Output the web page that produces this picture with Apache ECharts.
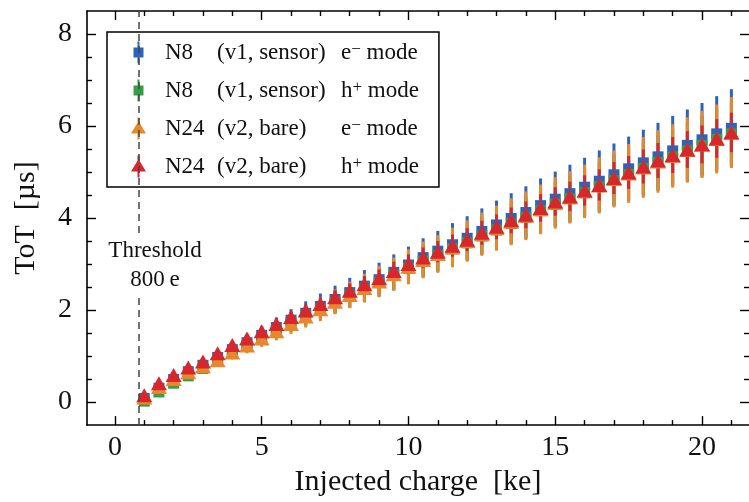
<!DOCTYPE html>
<html>
<head>
<meta charset="utf-8">
<script src="https://cdn.jsdelivr.net/npm/echarts@6/dist/echarts.min.js"></script>
<style>
  html, body { margin: 0; padding: 0; background: #fff; }
  #chart { width: 749px; height: 502px; }
</style>
</head>
<body>
<div id="chart"></div>
<script>
// injected charge [ke]
const charge = [1, 1.5, 2, 2.5, 3, 3.5, 4, 4.5, 5, 5.5, 6, 6.5, 7, 7.5, 8, 8.5, 9, 9.5, 10, 10.5,
  11, 11.5, 12, 12.5, 13, 13.5, 14, 14.5, 15, 15.5, 16, 16.5, 17, 17.5, 18, 18.5, 19, 19.5, 20, 20.5, 21];

// ToT [us]
const totN8e = [0.08, 0.30, 0.49, 0.66, 0.80, 0.97, 1.14, 1.29, 1.45, 1.62, 1.78, 1.93, 2.08, 2.23, 2.38, 2.52, 2.66, 2.82, 2.98, 3.14,
  3.28, 3.42, 3.56, 3.71, 3.85, 3.99, 4.12, 4.27, 4.41, 4.53, 4.67, 4.80, 4.94, 5.07, 5.20, 5.33, 5.46, 5.58, 5.70, 5.83, 5.95];
const totN8h = [0.02, 0.22, 0.41, 0.57, 0.73, 0.90, 1.07, 1.23, 1.39, 1.56, 1.72, 1.87, 2.02, 2.17, 2.32, 2.46, 2.60, 2.76, 2.91, 3.06,
  3.19, 3.33, 3.46, 3.61, 3.74, 3.88, 4.01, 4.16, 4.30, 4.42, 4.55, 4.68, 4.82, 4.95, 5.08, 5.21, 5.33, 5.46, 5.58, 5.71, 5.83];
const totN24e = [0.10, 0.33, 0.50, 0.65, 0.78, 0.91, 1.08, 1.23, 1.38, 1.54, 1.70, 1.86, 2.02, 2.18, 2.33, 2.48, 2.62, 2.78, 2.94, 3.09,
  3.22, 3.36, 3.50, 3.65, 3.78, 3.92, 4.05, 4.19, 4.33, 4.45, 4.58, 4.71, 4.85, 4.97, 5.10, 5.23, 5.35, 5.48, 5.60, 5.72, 5.86];
const totN24h = [0.15, 0.41, 0.59, 0.75, 0.88, 1.06, 1.24, 1.38, 1.54, 1.70, 1.85, 1.99, 2.13, 2.28, 2.42, 2.56, 2.69, 2.85, 3.00, 3.14,
  3.27, 3.40, 3.53, 3.68, 3.81, 3.95, 4.07, 4.22, 4.36, 4.47, 4.60, 4.72, 4.87, 4.99, 5.12, 5.25, 5.37, 5.49, 5.60, 5.73, 5.86];

// error bars (half length)
const errN8e = [0.05, 0.07, 0.08, 0.10, 0.12, 0.14, 0.16, 0.18, 0.20, 0.22, 0.24, 0.26, 0.28, 0.30, 0.32, 0.35, 0.37, 0.39, 0.40, 0.42,
  0.44, 0.47, 0.48, 0.50, 0.53, 0.55, 0.57, 0.59, 0.60, 0.63, 0.64, 0.67, 0.68, 0.70, 0.72, 0.74, 0.76, 0.78, 0.80, 0.82, 0.85];
const errN8h = [0.04, 0.05, 0.07, 0.08, 0.10, 0.11, 0.13, 0.14, 0.16, 0.18, 0.19, 0.21, 0.22, 0.24, 0.26, 0.28, 0.29, 0.31, 0.32, 0.34,
  0.35, 0.37, 0.38, 0.40, 0.42, 0.44, 0.45, 0.47, 0.48, 0.50, 0.51, 0.53, 0.54, 0.56, 0.57, 0.59, 0.60, 0.62, 0.64, 0.65, 0.67];
const errN24e = [0.05, 0.06, 0.08, 0.09, 0.11, 0.13, 0.15, 0.17, 0.18, 0.20, 0.22, 0.24, 0.26, 0.27, 0.29, 0.31, 0.34, 0.36, 0.38, 0.40,
  0.41, 0.43, 0.45, 0.47, 0.49, 0.51, 0.53, 0.54, 0.56, 0.57, 0.58, 0.61, 0.62, 0.64, 0.66, 0.68, 0.69, 0.71, 0.73, 0.75, 0.77];
const errN24h = [0.03, 0.04, 0.04, 0.05, 0.06, 0.07, 0.08, 0.09, 0.10, 0.11, 0.12, 0.13, 0.14, 0.15, 0.16, 0.18, 0.19, 0.20, 0.21, 0.22,
  0.23, 0.24, 0.25, 0.26, 0.27, 0.28, 0.29, 0.30, 0.31, 0.32, 0.33, 0.34, 0.35, 0.36, 0.37, 0.38, 0.39, 0.40, 0.41, 0.42, 0.43];

// ticks
const xMajor = [0, 5, 10, 15, 20];
const xMinor = [1, 2, 3, 4, 6, 7, 8, 9, 11, 12, 13, 14, 16, 17, 18, 19, 21];
const yMajor = [0, 2, 4, 6, 8];
const yMinor = [0.5, 1, 1.5, 2.5, 3, 3.5, 4.5, 5, 5.5, 6.5, 7, 7.5];

const threshold = 0.8;

// legend texts
const chipNames = ['N8', 'N8', 'N24', 'N24'];
const versions = ['(v1, sensor)', '(v1, sensor)', '(v2, bare)', '(v2, bare)'];
const carriers = ['e', 'h', 'e', 'h'];
const carrierSigns = ['\u2212', '+', '\u2212', '+'];

const serif = 'Liberation Serif';
const colors = ['#2d63bd', '#34a046', '#e8882d', '#d8262c'];
const values = [totN8e, totN8h, totN24e, totN24h];
const errors = [errN8e, errN8h, errN24e, errN24h];
const symbols = ['rect', 'rect', 'triangle', 'triangle'];
const symbolSizes = [[11, 11], [11, 11], [16, 14], [16, 14]];

// legend icons: marker with its error bar (tiny points at the sides keep the box 15x22)
const squareIcon = 'path://M0,11L0.01,11L0,11.01Z M15,11L14.99,11L15,11.01Z M6.5,0H8.5V6H12.5V16H8.5V22H6.5V16H2.5V6H6.5Z';
const triangleIcon = 'path://M6.5,0H8.5V5.2L15,16H8.5V22H6.5V16H0L6.5,5.2Z';
const icons = [squareIcon, squareIcon, triangleIcon, triangleIcon];

const names = chipNames.map((c, i) => c + ' ' + versions[i] + ' ' + carriers[i] + carrierSigns[i] + ' mode');

let chart = echarts.init(document.getElementById('chart'));

let series = [];
names.forEach((name, i) => {
  let data = charge.map((x, j) => [x, values[i][j], errors[i][j]]);
  // error bars
  series.push({
    name: name,
    type: 'custom',
    xAxisIndex: 0,
    yAxisIndex: 0,
    data: data,
    encode: { x: 0, y: 1 },
    silent: true,
    renderItem: function (params, api) {
      let x = api.value(0), y = api.value(1), e = api.value(2);
      let lo = api.coord([x, y - e]);
      let hi = api.coord([x, y + e]);
      return {
        type: 'line',
        shape: { x1: lo[0], y1: lo[1], x2: hi[0], y2: hi[1] },
        style: { stroke: colors[i], lineWidth: 3 }
      };
    }
  });
  // markers
  let s = {
    name: name,
    type: 'scatter',
    xAxisIndex: 0,
    yAxisIndex: 0,
    data: data.map(d => [d[0], d[1]]),
    symbol: symbols[i],
    symbolSize: symbolSizes[i],
    itemStyle: { color: colors[i], opacity: 1 },
    silent: true
  };
  if (i === 0) {
    s.markLine = {
      silent: true,
      symbol: ['none', 'none'],
      label: { show: false },
      lineStyle: { color: '#444', width: 1.5, type: [7, 5] },
      data: [{ xAxis: threshold }]
    };
  }
  series.push(s);
});

function xAxisDef(pos, ticks, len, main) {
  return {
    type: 'value',
    position: pos,
    min: -0.95,
    max: 21.6,
    axisLine: { show: main, onZero: false, lineStyle: { color: '#000', width: 1.6 } },
    axisTick: { show: true, inside: true, length: len, customValues: ticks, lineStyle: { color: '#000', width: 1.4 } },
    axisLabel: { show: main && pos === 'bottom', customValues: ticks, margin: 9, fontSize: 28, fontFamily: serif, color: '#111' },
    splitLine: { show: false },
    name: main && pos === 'bottom' ? 'Injected charge  [ke]' : '',
    nameLocation: 'middle',
    nameGap: 30,
    nameTextStyle: { fontSize: 30, fontFamily: serif, color: '#111' }
  };
}

function yAxisDef(pos, ticks, len, main) {
  return {
    type: 'value',
    position: pos,
    min: -0.5,
    max: 8.5,
    // the right frame line falls just outside the picture
    axisLine: { show: main && pos === 'left', onZero: false, lineStyle: { color: '#000', width: 1.6 } },
    axisTick: { show: true, inside: true, length: len, customValues: ticks, lineStyle: { color: '#000', width: 1.4 } },
    axisLabel: { show: main && pos === 'left', customValues: ticks, margin: 15, fontSize: 28, fontFamily: serif, color: '#111' },
    splitLine: { show: false },
    name: main && pos === 'left' ? 'ToT  [\u00b5s]' : '',
    nameLocation: 'middle',
    nameGap: 46,
    nameTextStyle: { fontSize: 30, fontFamily: serif, color: '#111' }
  };
}

let option = {
  animation: false,
  backgroundColor: '#fff',
  grid: { left: 87, top: 11, width: 662, height: 416 },
  xAxis: [
    xAxisDef('bottom', xMajor, 9, true),
    xAxisDef('bottom', xMinor, 5, false),
    xAxisDef('top', xMajor, 9, true),
    xAxisDef('top', xMinor, 5, false)
  ],
  yAxis: [
    yAxisDef('left', yMajor, 9, true),
    yAxisDef('left', yMinor, 5, false),
    yAxisDef('right', yMajor, 9, true),
    yAxisDef('right', yMinor, 5, false)
  ],
  legend: {
    orient: 'vertical',
    left: 107,
    top: 32,
    padding: [9, 20, 9, 24],
    itemWidth: 15,
    itemHeight: 22,
    itemGap: 15,
    borderColor: '#000',
    borderWidth: 1.5,
    borderRadius: 0,
    backgroundColor: '#fff',
    selectedMode: false,
    data: names.map((n, i) => ({ name: n, icon: icons[i], itemStyle: { color: colors[i] } })),
    formatter: function (name) {
      let i = names.indexOf(name);
      return '{sp|}{a|' + chipNames[i] + '}{b|' + versions[i] + '}{c|' + carriers[i] + '}{sup|' + carrierSigns[i] + '}{c| mode}';
    },
    textStyle: {
      fontFamily: serif,
      fontSize: 23,
      color: '#111',
      rich: {
        sp: { width: 14, lineHeight: 22 },
        a: { width: 52, fontSize: 23, fontFamily: serif, color: '#111', lineHeight: 22 },
        b: { width: 124, fontSize: 23, fontFamily: serif, color: '#111', lineHeight: 22 },
        c: { fontSize: 23, fontFamily: serif, color: '#111', lineHeight: 22 },
        sup: { fontSize: 17, fontFamily: serif, color: '#111', lineHeight: 14, verticalAlign: 'top' }
      }
    }
  },
  graphic: [
    { type: 'rect', z: 100, shape: { x: 110, y: 235, width: 92, height: 62 }, style: { fill: '#fff' } },
    { type: 'text', z: 101, x: 155, y: 251, style: { text: 'Threshold', font: '23px "Liberation Serif"', fill: '#111', align: 'center', verticalAlign: 'middle' } },
    { type: 'text', z: 101, x: 155, y: 280, style: { text: '800\u2009e', font: '23px "Liberation Serif"', fill: '#111', align: 'center', verticalAlign: 'middle' } }
  ],
  series: series
};

chart.setOption(option);
</script>
</body>
</html>
